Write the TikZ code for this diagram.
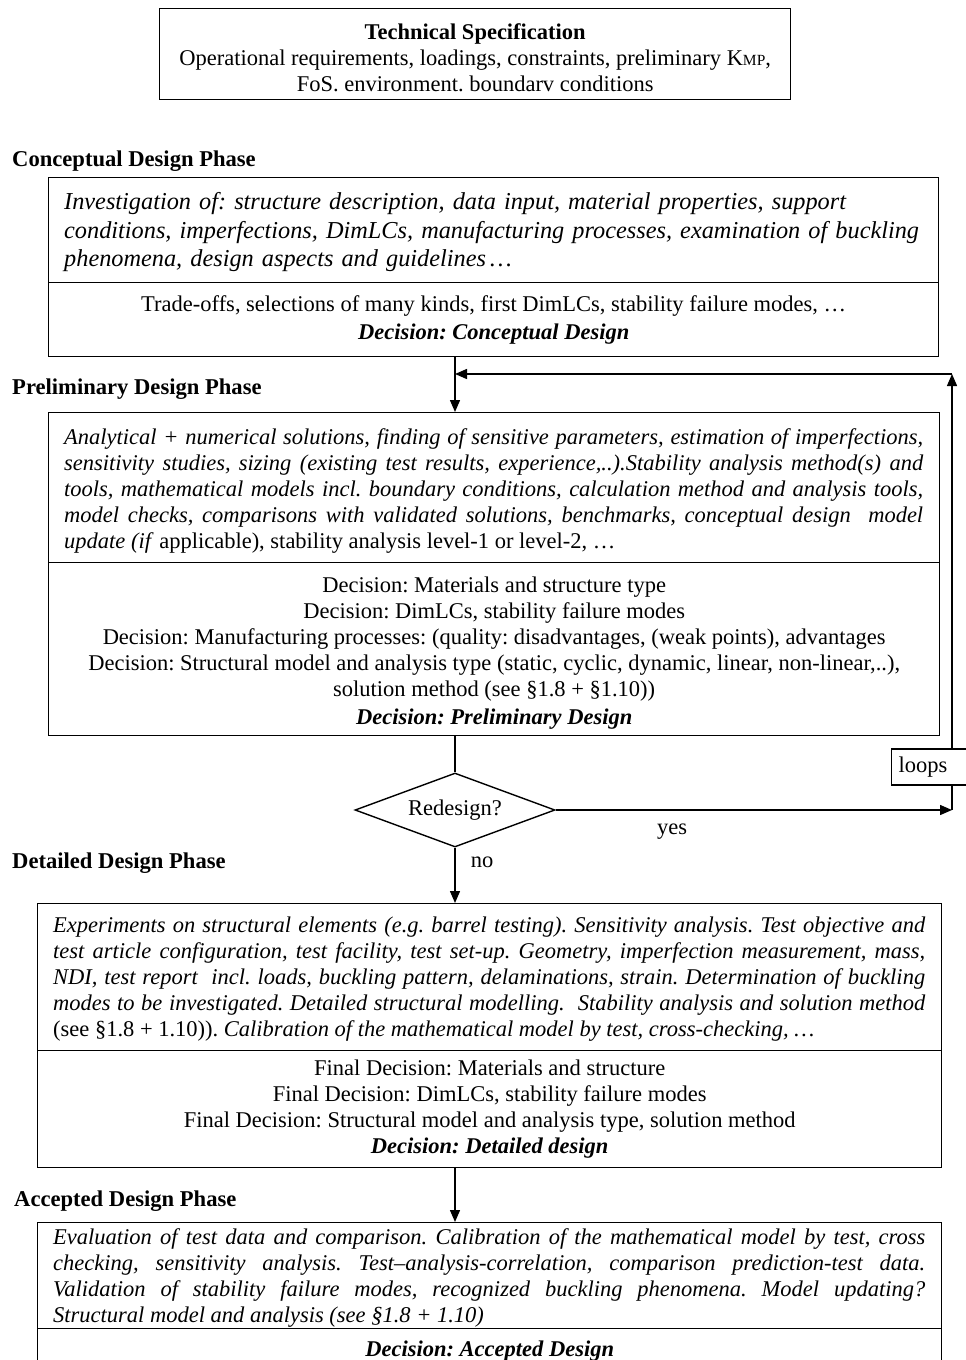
\documentclass[tikz,border=0pt]{standalone}
\usepackage{fontspec}
\setmainfont{Liberation Serif}
\usetikzlibrary{arrows.meta,shapes.geometric}
% normal stretchable word space (align=left fixes it otherwise)
\newcommand{\wordsp}{\spaceskip=.25em plus .6em minus .09em\relax\xspaceskip=0pt\relax}
% one justified line in the preliminary box and in the two lower boxes
\newcommand{\jlp}[1]{\leavevmode\hbox to 859pt{\wordsp#1}}
\newcommand{\jld}[1]{\leavevmode\hbox to 872pt{\wordsp#1}}

\begin{document}
\begin{tikzpicture}[x=1pt,y=-1pt,
  every node/.style={font=\fontsize{22.5}{26}\selectfont\frenchspacing},
  frame/.style={draw, line width=1.4pt, rectangle, anchor=north west, inner sep=0pt},
  txt/.style={inner sep=0pt},
  phase/.style={anchor=base west, inner sep=0pt, font=\fontsize{22.6}{26}\selectfont\bfseries},
  arr/.style={line width=1.4pt, -{Triangle[length=12pt,width=10pt]}},
  link/.style={line width=1.4pt}
]
\useasboundingbox[fill=white] (0,0) rectangle (966,1360);

% vertical spine of the flow
\coordinate (spine) at (455,0);

% specification
\node[frame, minimum width=631pt, minimum height=91pt] (spec) at (159,8) {};
\node[txt, align=center] (specT) at ([yshift=-4pt]spec.center)
  {\textbf{Technical Specification}\\
   Operational requirements, loadings, constraints, preliminary K{\fontsize{15.5}{15.5}\selectfont MP},\\
   FoS. environment. boundarv conditions};

% conceptual design
\node[phase] (lc) at (12,166) {Conceptual Design Phase};
\node[frame, minimum width=890pt, minimum height=105pt] (cT) at (48,177) {};
\node[txt, anchor=west, text width=858pt, align=left,
      font=\fontsize{24.3}{28.5}\selectfont\itshape\frenchspacing] (cTt)
      at ([xshift=16pt,yshift=-2pt]cT.west)
  {Investigation of: structure description, data input, material properties, support\\
   conditions, imperfections, DimLCs, manufacturing processes, examination of buckling\\
   phenomena, design aspects and guidelines\,…};
\node[frame, minimum width=890pt, minimum height=74pt] (cB) at (48,282) {};
\node[txt, align=center, font=\fontsize{22.5}{28}\selectfont\frenchspacing] (cBt)
      at (cB.center)
  {Trade-offs, selections of many kinds, first DimLCs, stability failure modes, …\\
   \textbf{\textit{Decision: Conceptual Design}}};

% preliminary design
\node[phase] (lp) at (12,394) {Preliminary Design Phase};
\node[frame, minimum width=891pt, minimum height=150pt] (pT) at (48,412) {};
\node[txt, anchor=west, text width=859pt, align=left] (pTt) at ([xshift=16pt,yshift=-3pt]pT.west)
  {\itshape\wordsp
   \jlp{Analytical + numerical solutions, finding of sensitive parameters, estimation of imperfections,}\\
   \jlp{sensitivity studies, sizing (existing test results, experience,..).Stability analysis method(s) and}\\
   \jlp{tools, mathematical models incl. boundary conditions, calculation method and analysis tools,}\\
   \jlp{model checks, comparisons with validated solutions, benchmarks, conceptual design\ \ model}\\
   update (if\/ {\upshape applicable), stability analysis level-1 or level-2, …}};
\node[frame, minimum width=891pt, minimum height=173pt] (pB) at (48,562) {};
\node[txt, align=center] (pBt) at ([yshift=-4pt]pB.center)
  {Decision: Materials and structure type\\
   Decision: DimLCs, stability failure modes\\
   Decision: Manufacturing processes: (quality: disadvantages, (weak points), advantages\\
   Decision: Structural model and analysis type (static, cyclic, dynamic, linear, non-linear,..),\\
   solution method (see §1.8 + §1.10))\\[2pt]
   \textbf{\textit{Decision: Preliminary Design}}};

% redesign decision and loop back
\node[draw, diamond, aspect=2.7, minimum width=200pt, minimum height=74pt,
      inner sep=0pt, line width=1.4pt] (dia) at (455,810) {Redesign?};
\coordinate (ret) at (952,374);
\draw[link] (pB.south -| spine) -- (dia.north);
\draw[arr] (dia.east) -- (dia.east -| ret) coordinate (yesend);
\draw[arr] (yesend) -- (ret);
\draw[arr] (ret) -- (ret -| spine);
\node[draw, fill=white, line width=1.4pt, anchor=west, inner xsep=7pt,
      text width=70pt, align=left, minimum height=36pt] (loops) at (891,767) {loops};
\node (yes) at (672,832) {yes};
\node (no) at (482,862) {no};

\draw[arr] (cB.south -| spine) -- (pT.north -| spine);

% detailed design
\node[phase] (ld) at (12,868) {Detailed Design Phase};
\node[frame, minimum width=904pt, minimum height=147pt] (dT) at (37,903) {};
\node[txt, anchor=west, text width=872pt, align=left] (dTt) at ([xshift=16pt,yshift=-1.5pt]dT.west)
  {\itshape\wordsp
   \jld{Experiments on structural elements (e.g. barrel testing). Sensitivity analysis. Test objective and}\\
   \jld{test article configuration, test facility, test set-up. Geometry, imperfection measurement, mass,}\\
   \jld{NDI, test report\ \ incl. loads, buckling pattern, delaminations, strain. Determination of buckling}\\
   \jld{modes to be investigated. Detailed structural modelling.\ \ Stability analysis and solution method}\\
   {\upshape (see §1.8 + 1.10)).} Calibration of the mathematical model by test, cross-checking, …};
\node[frame, minimum width=904pt, minimum height=117pt] (dB) at (37,1050) {};
\node[txt, align=center] (dBt) at (dB.center)
  {Final Decision: Materials and structure\\
   Final Decision: DimLCs, stability failure modes\\
   Final Decision: Structural model and analysis type, solution method\\
   \textbf{\textit{Decision: Detailed design}}};
\draw[arr] (dia.south) -- (dT.north -| dia.south);

% accepted design
\node[phase] (la) at (14,1206) {Accepted Design Phase};
\node[frame, minimum width=904pt, minimum height=106pt] (aT) at (37,1222) {};
\node[txt, anchor=west, text width=872pt, align=left] (aTt) at ([xshift=16pt,yshift=-2pt]aT.west)
  {\itshape\wordsp
   \jld{Evaluation of test data and comparison. Calibration of the mathematical model by test, cross}\\
   \jld{checking, sensitivity analysis. Test–analysis-correlation, comparison prediction-test data.}\\
   \jld{Validation of stability failure modes, recognized buckling phenomena. Model updating?}\\
   Structural model and analysis (see §1.8 + 1.10)};
\node[frame, minimum width=904pt, minimum height=44pt] (aB) at (37,1328) {};
\node[txt] (aBt) at (aB.center) {\textbf{\textit{Decision: Accepted Design}}};
\draw[arr] (dB.south -| spine) -- (aT.north -| spine);
\end{tikzpicture}
\end{document}
